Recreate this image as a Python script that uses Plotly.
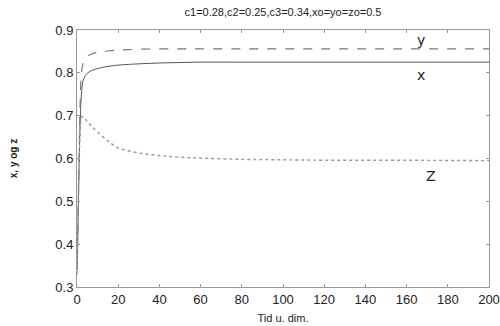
import plotly.graph_objects as go

t = [0, 0.5, 1, 1.5, 2, 2.5, 3, 4, 5, 7, 10, 15, 20, 30, 40, 50, 60, 80, 100, 120, 150, 200]
x_vals = [0.34, 0.45, 0.58, 0.68, 0.74, 0.77, 0.783, 0.793, 0.799, 0.805, 0.810, 0.815, 0.818, 0.821, 0.823, 0.824, 0.825, 0.825, 0.825, 0.825, 0.825, 0.825]
y_vals = [0.34, 0.46, 0.60, 0.72, 0.79, 0.812, 0.823, 0.833, 0.839, 0.844, 0.848, 0.851, 0.853, 0.855, 0.856, 0.856, 0.856, 0.856, 0.856, 0.856, 0.856, 0.856]
z_vals = [0.33, 0.45, 0.58, 0.66, 0.693, 0.698, 0.697, 0.692, 0.686, 0.676, 0.662, 0.641, 0.625, 0.613, 0.607, 0.603, 0.601, 0.598, 0.597, 0.596, 0.596, 0.595]

labels = [("y", 167, 0.877), ("x", 167, 0.795), ("Z", 172, 0.559)]

fig = go.Figure()
fig.add_trace(go.Scatter(x=t, y=x_vals, mode="lines", line=dict(color="#555", width=1, shape="spline")))
fig.add_trace(go.Scatter(x=t, y=y_vals, mode="lines", line=dict(color="#777", width=1.2, dash="dash", shape="spline")))
fig.add_trace(go.Scatter(x=t, y=z_vals, mode="lines", line=dict(color="#999", width=1.4, dash="dot", shape="spline")))

for txt, lx, ly in labels:
    fig.add_annotation(x=lx, y=ly, text=txt, showarrow=False,
                       font=dict(family="DejaVu Sans", size=14, color="#222"))

axis_common = dict(showgrid=False, zeroline=False, showline=True, linecolor="#999", linewidth=1,
                   mirror="ticks", ticks="inside", ticklen=3, tickcolor="#999", automargin=False,
                   tickfont=dict(family="Liberation Sans", size=13, color="#222"))

fig.update_layout(
    width=500, height=326,
    margin=dict(l=77, r=11, t=30, b=39),
    paper_bgcolor="white", plot_bgcolor="white",
    showlegend=False,
    title=dict(text="c1=0.28,c2=0.25,c3=0.34,xo=yo=zo=0.5", x=0.566, xanchor="center", y=0.962, yanchor="middle",
               font=dict(family="Liberation Sans", size=11, color="#222")),
    xaxis=dict(range=[0, 200], tickvals=list(range(0, 201, 20)),
               title=dict(text="Tid u. dim.", standoff=8, font=dict(family="Liberation Sans", size=11, color="#222")),
               **axis_common),
    yaxis=dict(range=[0.3, 0.9], tickvals=[0.3, 0.4, 0.5, 0.6, 0.7, 0.8, 0.9], tickformat=".1f",
               title=dict(text="<b>x, y og z</b>", standoff=35, font=dict(family="Liberation Sans", size=10, color="#222")),
               **axis_common),
)

fig.write_html("out.html")
